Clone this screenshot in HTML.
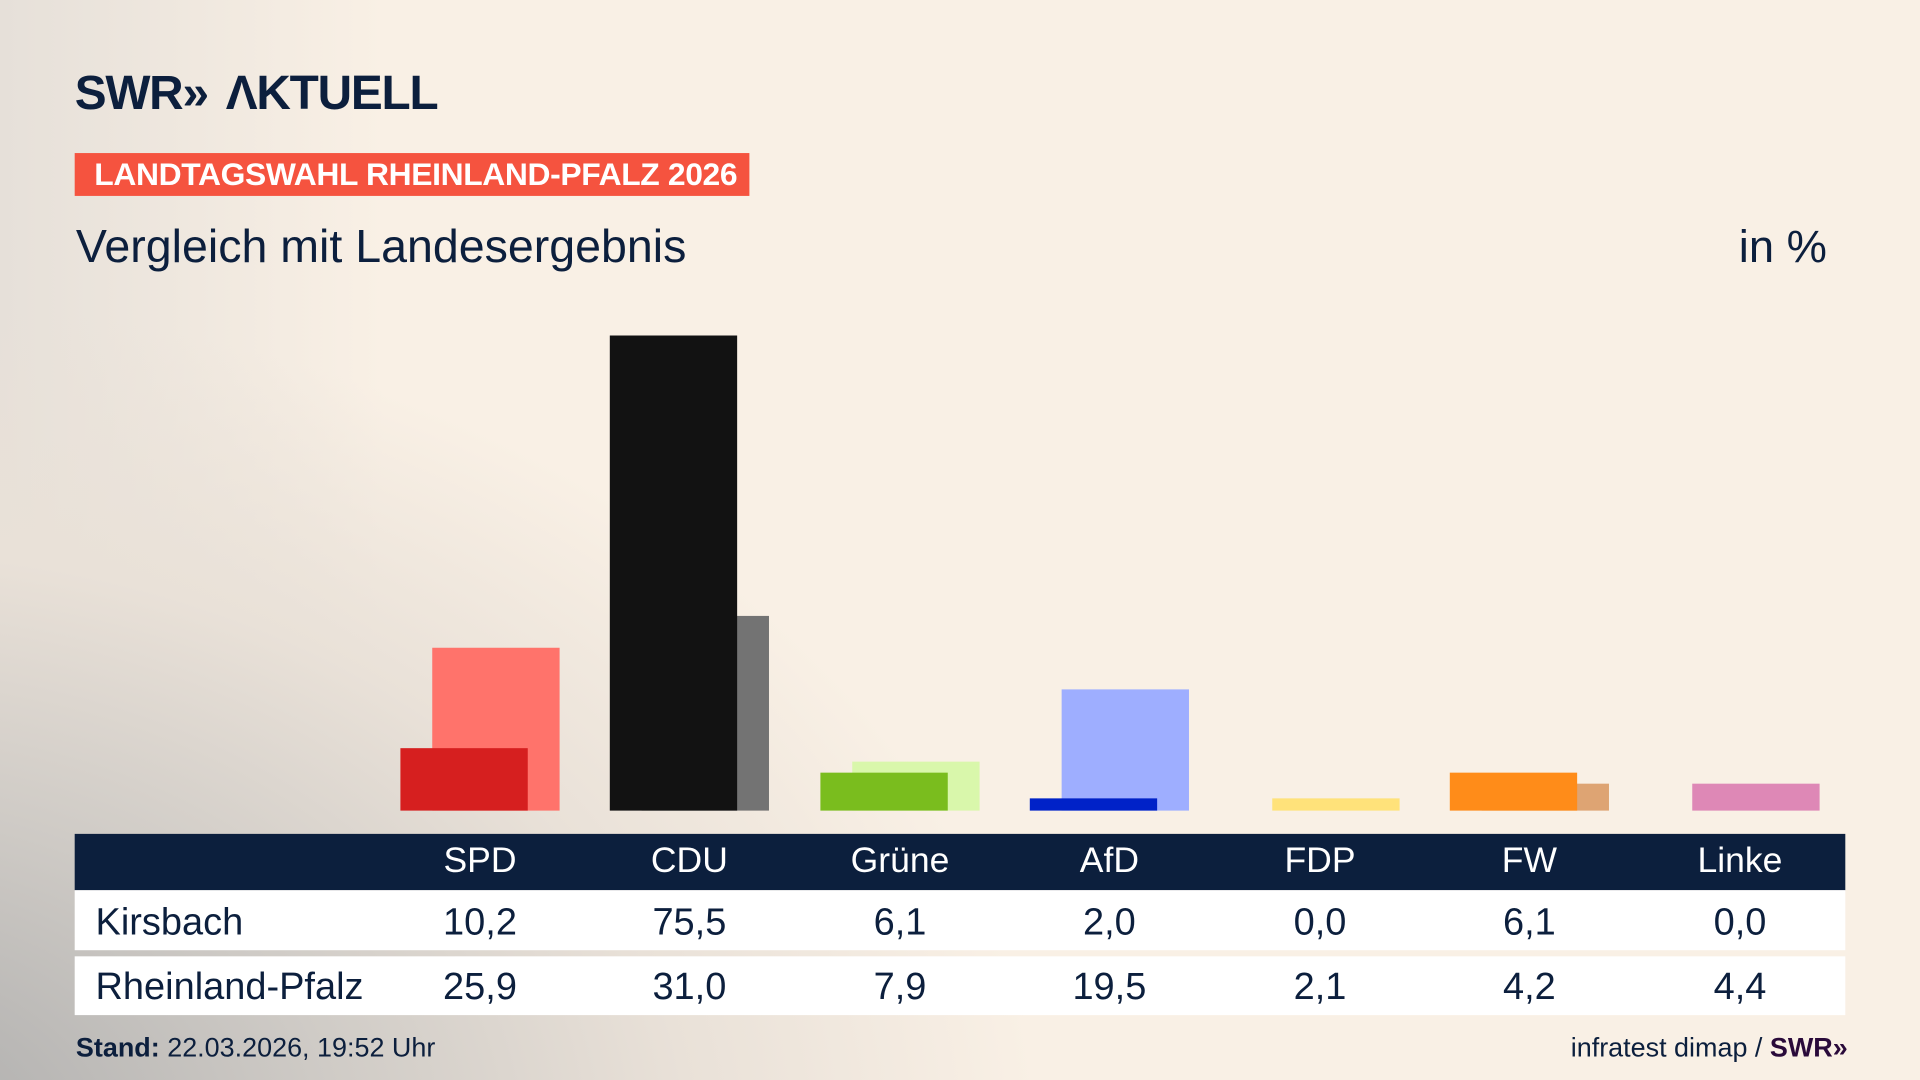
<!DOCTYPE html>
<html><head><meta charset="utf-8"><style>
html,body{margin:0;padding:0;width:1920px;height:1080px;overflow:hidden}
body{background:#f9f0e5}
#bg{position:absolute;left:0;top:0;width:1920px;height:1080px;
background:radial-gradient(ellipse 1400px 1000px at -150px 1150px,#a9a9a9 0%,#cfcbc6 35%,#e9e1d8 60%,rgba(249,240,229,0) 85%),linear-gradient(90deg,#e6e0d9 0%,rgba(249,240,229,0) 20%),#f9f0e5}
#c{position:absolute;left:0;top:0;width:1568px;height:882px;transform:scale(1.22449);transform-origin:0 0;font-family:"Liberation Sans",sans-serif;color:#0c1f3d}
.a{position:absolute}
.b{position:absolute}
.hd{position:absolute;top:681px;height:46px;left:61px;width:1446px;background:#0c1f3d}
.row{position:absolute;left:61px;width:1446px;background:#fff}
.t{position:absolute;width:140px;text-align:center;transform:translateX(-70px);white-space:nowrap}
</style></head><body><div id="bg"></div>
<div id="c">
<div class="a" style="left:61px;top:55px;font-size:39px;font-weight:bold;letter-spacing:-1px">SWR<span style="letter-spacing:-6px">»</span>&nbsp; ΛKTUELL</div>
<div class="a" style="left:61px;top:125px;width:551px;height:35px;background:#f5533f;color:#fff;font-weight:bold;font-size:26px;line-height:35px;padding-left:16px;box-sizing:border-box;letter-spacing:-0.3px">LANDTAGSWAHL RHEINLAND-PFALZ 2026</div>
<div class="a" style="left:62px;top:181px;font-size:38px">Vergleich mit Landesergebnis</div>
<div class="a" style="left:1420px;top:181px;font-size:37px">in %</div>

<div class="b" style="left:353px;top:529px;width:104px;height:133px;background:#ff736b"></div>
<div class="b" style="left:327px;top:611px;width:104px;height:51px;background:#d61f1f"></div>
<div class="b" style="left:524px;top:503px;width:104px;height:159px;background:#737373"></div>
<div class="b" style="left:498px;top:274px;width:104px;height:388px;background:#121212"></div>
<div class="b" style="left:696px;top:622px;width:104px;height:40px;background:#d9f7ab"></div>
<div class="b" style="left:670px;top:631px;width:104px;height:31px;background:#7abd1e"></div>
<div class="b" style="left:867px;top:563px;width:104px;height:99px;background:#9eaeff"></div>
<div class="b" style="left:841px;top:652px;width:104px;height:10px;background:#0022c8"></div>
<div class="b" style="left:1039px;top:652px;width:104px;height:10px;background:#ffe27a"></div>
<div class="b" style="left:1210px;top:640px;width:104px;height:22px;background:#dea473"></div>
<div class="b" style="left:1184px;top:631px;width:104px;height:31px;background:#ff8c19"></div>
<div class="b" style="left:1382px;top:640px;width:104px;height:22px;background:#de88b6"></div>

<div class="hd"></div>
<div class="row" style="top:727px;height:49px"></div>
<div class="row" style="top:781px;height:48px"></div>
<div style="position:absolute;top:687px;left:0;color:#fff;font-size:29px">
<span class="t" style="left:392px">SPD</span><span class="t" style="left:563px">CDU</span><span class="t" style="left:735px">Grüne</span><span class="t" style="left:906px">AfD</span><span class="t" style="left:1078px">FDP</span><span class="t" style="left:1249px">FW</span><span class="t" style="left:1421px">Linke</span></div>
<div style="position:absolute;top:735px;left:0;font-size:31px">
<span class="a" style="left:78px">Kirsbach</span>
<span class="t" style="left:392px">10,2</span><span class="t" style="left:563px">75,5</span><span class="t" style="left:735px">6,1</span><span class="t" style="left:906px">2,0</span><span class="t" style="left:1078px">0,0</span><span class="t" style="left:1249px">6,1</span><span class="t" style="left:1421px">0,0</span></div>
<div style="position:absolute;top:788px;left:0;font-size:31px">
<span class="a" style="left:78px;white-space:nowrap">Rheinland-Pfalz</span>
<span class="t" style="left:392px">25,9</span><span class="t" style="left:563px">31,0</span><span class="t" style="left:735px">7,9</span><span class="t" style="left:906px">19,5</span><span class="t" style="left:1078px">2,1</span><span class="t" style="left:1249px">4,2</span><span class="t" style="left:1421px">4,4</span></div>
<div class="a" style="left:62px;top:843px;font-size:22px;white-space:nowrap"><b>Stand:</b> 22.03.2026, 19:52 Uhr</div>
<div class="a" style="right:62px;top:843px;font-size:22px;white-space:nowrap">infratest dimap / <b style="color:#2a0a3a">SWR<span style="letter-spacing:-3px">»</span></b></div>
</div>
</body></html>
